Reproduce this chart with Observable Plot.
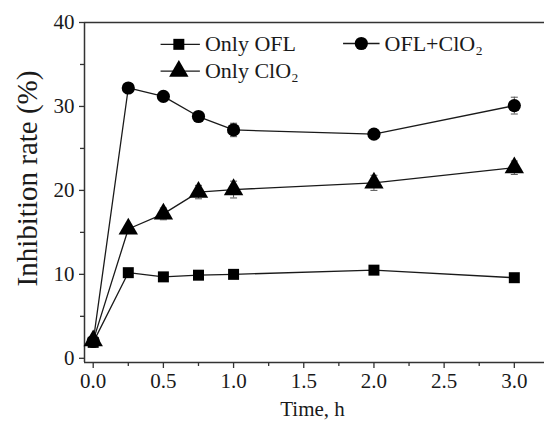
<!DOCTYPE html>
<html>
<head>
<meta charset="utf-8">
<script src="https://cdn.jsdelivr.net/npm/d3@7"></script>
<script src="https://cdn.jsdelivr.net/npm/@observablehq/plot@0.6"></script>
<style>
  html, body { margin: 0; padding: 0; background: #fff; }
  #chart svg { background: #fff; }
  #chart svg text { font-family: "Liberation Serif", "Times New Roman", serif !important; }
</style>
</head>
<body>
<div id="chart"></div>
<script>
// ---- data ----
const time = [0, 0.25, 0.5, 0.75, 1.0, 2.0, 3.0];
const onlyOFL   = [1.9, 10.2, 9.7, 9.9, 10.0, 10.5, 9.6];
const onlyOFLErr = [0.2, 0.3, 0.3, 0.3, 0.3, 0.3, 0.3];
const oflClO2   = [2.0, 32.2, 31.2, 28.8, 27.2, 26.7, 30.1];
const oflClO2Err = [0.2, 0.3, 0.5, 0.5, 0.8, 0.5, 1.0];
const onlyClO2  = [2.1, 15.4, 17.2, 19.8, 20.1, 20.9, 22.7];
const onlyClO2Err = [0.2, 0.4, 0.7, 0.8, 1.0, 0.9, 0.8];

const seriesNames = ["Only OFL", "OFL+ClO₂", "Only ClO₂"];
const seriesSymbols = ["square", "circle", "triangle"];
const seriesValues = [onlyOFL, oflClO2, onlyClO2];
const seriesErrors = [onlyOFLErr, oflClO2Err, onlyClO2Err];

const yTicks = [0, 10, 20, 30, 40];
const yMinor = [5, 15, 25, 35];
const xTicks = [0, 0.5, 1.0, 1.5, 2.0, 2.5, 3.0];
const xMinor = [0.25, 0.75, 1.25, 1.75, 2.25, 2.75];
const yTitle = "Inhibition rate (%)";
const xTitle = "Time, h";

// legend entries: position in data units (line start, marker, line end, text)
const legendX1 = [0.48, 1.78, 0.48];
const legendXm = [0.61, 1.91, 0.61];
const legendX2 = [0.76, 2.04, 0.76];
const legendY  = [37.4, 37.5, 34.2];

const xDomain = [-0.062, 3.215];
const yDomain = [-0.5, 40];

// ---- table ----
const rows = [];
seriesNames.forEach((s, i) => time.forEach((t, j) => rows.push({
  series: s, symbol: seriesSymbols[i], t, v: seriesValues[i][j], e: seriesErrors[i][j]
})));
const legend = seriesNames.map((s, i) => ({
  series: s, symbol: seriesSymbols[i], x1: legendX1[i], xm: legendXm[i], x2: legendX2[i], y: legendY[i]
}));

const capSymbol = { draw(ctx, size) { const r = 3.5; ctx.moveTo(-r, 0); ctx.lineTo(r, 0); } };
const rFor = s => s === "square" ? 6.2 : s === "circle" ? 6.6 : 7.2;
const ink = "#1a1a1a";

const marks = [
  Plot.ruleY([yDomain[1]], { stroke: "#333", strokeWidth: 1.5 }),
  Plot.ruleX([xDomain[0]], { stroke: "#333", strokeWidth: 1.5 }),
  Plot.ruleY([yDomain[0]], { stroke: "#333", strokeWidth: 1.5 }),
  Plot.axisY(yTicks, { tickSize: 5, tickPadding: 5, fontSize: 21, stroke: "#333", strokeWidth: 1.3, label: null, fill: ink }),
  Plot.axisY(yMinor, { tickSize: 4, text: null, label: null, stroke: "#333", strokeWidth: 1.3 }),
  Plot.axisX(xTicks, { tickSize: 6, tickPadding: 5, fontSize: 21, stroke: "#333", strokeWidth: 1.3,
    tickFormat: d3.format(".1f"), label: null, fill: ink }),
  Plot.axisX(xMinor, { tickSize: 4, text: null, label: null, stroke: "#333", strokeWidth: 1.3 }),
  Plot.text([yTitle], { frameAnchor: "left", textAnchor: "middle", rotate: -90, dx: -57, dy: -14, fontSize: 29, fill: ink }),
  Plot.text([xTitle], { frameAnchor: "bottom", textAnchor: "middle", dx: -2, dy: 53, fontSize: 21, fill: ink }),
  // error bars
  Plot.ruleX(rows, { x: "t", y1: d => d.v - d.e, y2: d => d.v + d.e, stroke: "#555", strokeWidth: 1 }),
  Plot.dot(rows, { x: "t", y: d => d.v + d.e, symbol: () => capSymbol, stroke: "#555", strokeWidth: 1, r: 3 }),
  Plot.dot(rows, { x: "t", y: d => d.v - d.e, symbol: () => capSymbol, stroke: "#555", strokeWidth: 1, r: 3 }),
  // lines
  Plot.line(rows, { x: "t", y: "v", z: "series", stroke: ink, strokeWidth: 1.3 }),
];
seriesSymbols.forEach(sym => {
  marks.push(Plot.dot(rows.filter(d => d.symbol === sym), { x: "t", y: "v", symbol: sym, r: rFor(sym), fill: "#000", stroke: "none" }));
});
// legend
marks.push(
  Plot.link(legend, { x1: "x1", x2: "x2", y1: "y", y2: "y", stroke: ink, strokeWidth: 1.3 }),
  ...seriesSymbols.map(sym => Plot.dot(legend.filter(d => d.symbol === sym), { x: "xm", y: "y", symbol: sym, r: rFor(sym), fill: "#000", stroke: "none" })),
  Plot.text(legend, { x: "x2", y: "y", text: "series", textAnchor: "start", dx: 5, fontSize: 22, fill: ink })
);

const chart = Plot.plot({
  width: 544,
  height: 424,
  marginLeft: 84,
  marginRight: 0,
  marginTop: 22,
  marginBottom: 62,
  x: { domain: xDomain, axis: null },
  y: { domain: yDomain, axis: null },
  style: { background: "#fff", color: ink },
  marks
});
document.getElementById("chart").appendChild(chart);
</script>
</body>
</html>
